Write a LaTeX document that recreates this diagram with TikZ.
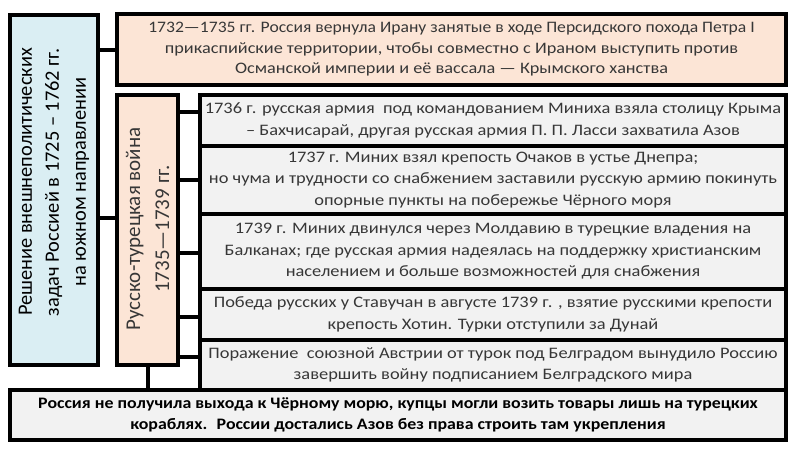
\documentclass[tikz,border=0pt]{standalone}
\usepackage{fontspec}
\setmainfont{Carlito}
\newfontfamily\grayfont[FakeStretch=1.15]{Carlito}
\newfontfamily\botfont[FakeStretch=1.115]{Carlito}
\newfontfamily\topfontA[FakeStretch=1.10]{Carlito}
\newfontfamily\topfontB[FakeStretch=1.14]{Carlito}
\definecolor{bluefill}{RGB}{218,238,243}
\definecolor{peachfill}{RGB}{252,229,214}
\definecolor{grayfill}{RGB}{242,242,242}
\definecolor{txt}{RGB}{55,55,55}
\begin{document}
\begin{tikzpicture}[x=1pt,y=-1pt,
  box/.style={draw=black, line width=4pt, rectangle, inner sep=0pt, align=center, text=txt},
  graybox/.style={box, fill=grayfill, minimum width=586pt, font=\grayfont\fontsize{16}{21.5}\selectfont},
  conn/.style={line width=4pt, draw=black}]
\useasboundingbox (0,0) rectangle (800,450);
\node[box, fill=bluefill, minimum width=88pt, minimum height=350pt] (blue) at (54,190) {};
\node[rotate=90, align=center, text=black, font=\fontsize{20.4}{27}\selectfont] (bluetext) at ([yshift=8pt]blue.center) {Решение внешнеполитических\\задач Россией в 1725 – 1762 гг.\\на южном направлении};
\node[box, fill=peachfill, minimum width=669pt, minimum height=71pt, font=\fontsize{16}{20.5}\selectfont] (top) at (451.5,49.5) {{\topfontA 1732—1735 гг. Россия вернула Ирану занятые в ходе Персидского похода Петра I}\\{\topfontB прикаспийские территории, чтобы совместно с Ираном выступить против}\\{\topfontB Османской империи и её вассала — Крымского ханства}};
\node[box, fill=peachfill, minimum width=61pt, minimum height=270pt] (war) at (147.5,230) {};
\node[rotate=90, align=center, text=txt, font=\fontsize{21}{29}\selectfont] (wartext) at ([yshift=1pt]war.center) {Русско-турецкая война\\1735—1739 гг.};
\node[graybox, minimum height=50.5pt] (g1) at (493,120.25) {1736 г. русская армия \ под командованием Миниха взяла столицу Крыма\\– Бахчисарай, другая русская армия П. П. Ласси захватила Азов};
\node[graybox, minimum height=68.5pt] (g2) at (493,179.75) {1737 г. Миних взял крепость Очаков в устье Днепра;\\но чума и трудности со снабжением заставили русскую армию покинуть\\опорные пункты на побережье Чёрного моря};
\node[graybox, minimum height=75pt] (g3) at (493,251.5) {1739 г. Миних двинулся через Молдавию в турецкие владения на\\Балканах; где русская армия надеялась на поддержку христианским\\населением и больше возможностей для снабжения};
\node[graybox, minimum height=51pt] (g4) at (493,314.5) {Победа русских у Ставучан в августе 1739 г. , взятие русскими крепости\\крепость Хотин. Турки отступили за Дунай};
\node[graybox, minimum height=50pt] (g5) at (493,365) {Поражение \ союзной Австрии от турок под Белградом вынудило Россию\\завершить войну подписанием Белградского мира};
\node[box, fill=grayfill, minimum width=776pt, minimum height=50pt, text=black, font=\botfont\bfseries\fontsize{16}{21}\selectfont] (bot) at (398,415) {Россия не получила выхода к Чёрному морю, купцы могли возить товары лишь на турецких\\кораблях. \ России достались Азов без права строить там укрепления};
\draw[conn] (blue.east |- top.west) -- (top.west);
\draw[conn] ([yshift=12pt]war.west -| blue.east) -- ([yshift=12pt]war.west);
\draw[conn] ([yshift=8pt]g1.west -| war.east) -- ([yshift=8pt]g1.west);
\draw[conn] (war.east |- g2.west) -- (g2.west);
\draw[conn] ([yshift=-1pt]g3.west -| war.east) -- ([yshift=-1pt]g3.west);
\draw[conn] ([yshift=-2pt]g4.west -| war.east) -- ([yshift=-2pt]g4.west);
\draw[conn] ([yshift=8pt]g5.west -| war.east) -- ([yshift=8pt]g5.west);
\draw[conn] (war.south) -- (war.south |- bot.north);
\end{tikzpicture}
\end{document}
